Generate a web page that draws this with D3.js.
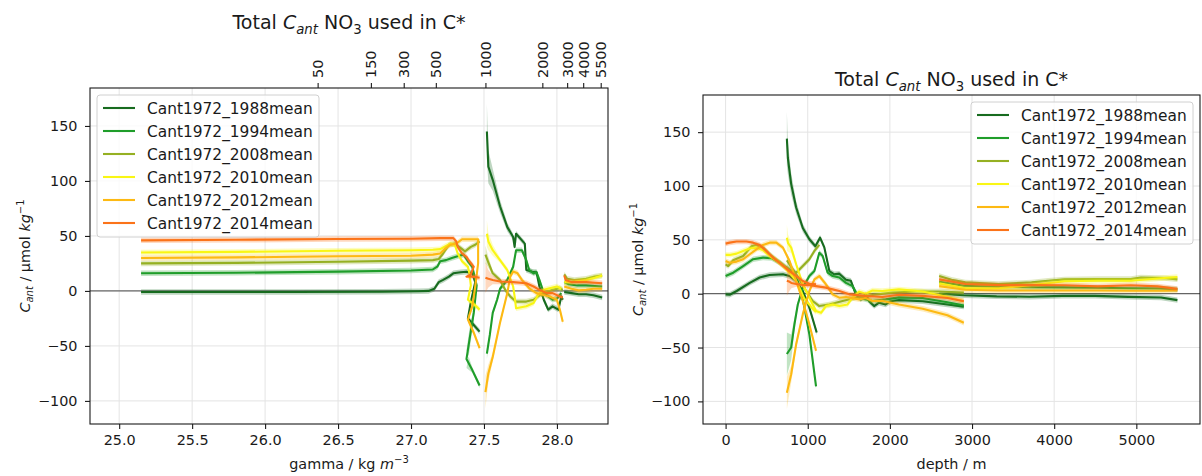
<!DOCTYPE html>
<html>
<head>
<meta charset="utf-8">
<script src="https://cdn.jsdelivr.net/npm/d3@7"></script>
<style>
  body { margin: 0; background: #fff; }
  text { font-family: "DejaVu Sans", sans-serif; fill: #1a1a1a; }
</style>
</head>
<body>
<svg id="chart" width="1202" height="476"></svg>
<script>
// ---- series names ----
const seriesNames = ["Cant1972_1988mean", "Cant1972_1994mean", "Cant1972_2008mean",
                     "Cant1972_2010mean", "Cant1972_2012mean", "Cant1972_2014mean"];

// ---- tick labels ----
const gammaTicks = [25.0, 25.5, 26.0, 26.5, 27.0, 27.5, 28.0];
const depthTicks = [0, 1000, 2000, 3000, 4000, 5000];
const cantTicks = [-100, -50, 0, 50, 100, 150];
// mean depth (m) of the gamma surfaces shown on the top axis
const depthTickLabels = [50, 150, 300, 500, 1000, 2000, 3000, 4000, 5500];
const depthTickGamma = [26.36, 26.725, 26.95, 27.17, 27.51, 27.90, 28.07, 28.18, 28.30];

// ---- Cant vs gamma: segments of [gamma, Cant, band half-width] ----
const gamma1988 = [
  [[25.15,-1],[25.6,-1],[26.2,-1],[26.8,-0.8],[27.05,-0.3],[27.12,0],[27.16,2],[27.19,8],[27.22,10],[27.26,13],[27.29,16],[27.34,17],[27.38,17.5],[27.42,16],[27.44,8],[27.41,-10],[27.39,-25],[27.43,-31],[27.47,-37]],
  [[27.52,145,25],[27.53,113,15],[27.56,101,10],[27.61,77,6],[27.66,58,4],[27.70,49,3],[27.71,40],[27.72,52],[27.78,43],[27.79,19],[27.83,17.5],[27.86,17],[27.88,4],[27.91,-8],[27.94,-17],[27.97,-14],[28.01,-17],[28.03,-5],[28.04,-8]],
  [[28.05,-1],[28.10,-2],[28.15,-3],[28.20,-3],[28.25,-4],[28.31,-6]]
];
const gamma1994 = [
  [[25.15,16],[25.8,16.5],[26.5,17.5],[27.0,18.5],[27.15,19.5],[27.18,22],[27.2,27],[27.24,28],[27.28,30],[27.33,32],[27.36,33],[27.39,27],[27.42,22],[27.45,5],[27.43,-20,6],[27.40,-45,10],[27.38,-62,8],[27.42,-72],[27.47,-86]],
  [[27.52,-57,5],[27.54,-40],[27.56,-20],[27.59,-8],[27.61,2],[27.66,10],[27.70,22],[27.72,37],[27.76,37],[27.79,28],[27.81,19],[27.84,16],[27.86,17],[27.88,10],[27.91,-2],[27.94,-5],[27.97,-8],[28.00,-7],[28.03,-2]],
  [[28.05,8],[28.08,6],[28.14,5],[28.2,5],[28.26,4.5],[28.31,4]]
];
const gamma2008 = [
  [[25.15,25],[25.8,25.5],[26.5,26.5],[27.0,27.5],[27.15,28],[27.19,29],[27.22,34],[27.26,42],[27.30,43],[27.33,40],[27.37,36],[27.41,40],[27.44,42],[27.47,45]],
  [[27.51,33,8],[27.53,26,5],[27.56,16],[27.61,10],[27.65,0],[27.68,-5],[27.72,-9.7],[27.79,-9.7],[27.84,-8],[27.88,-4],[27.91,-2],[27.97,1],[28.02,2.5],[28.04,1]],
  [[28.05,15],[28.07,11],[28.12,10],[28.2,11],[28.26,13],[28.31,14]]
];
const gamma2010 = [
  [[25.15,35],[25.8,35.5],[26.5,36.5],[27.0,37],[27.15,37.5],[27.2,38],[27.24,41],[27.27,43],[27.3,42],[27.32,34],[27.35,27],[27.39,22],[27.40,16],[27.41,5],[27.39,-8],[27.43,-12],[27.47,-17]],
  [[27.52,52,12],[27.53,45,8],[27.56,37,5],[27.61,28],[27.66,19],[27.70,4],[27.71,-5],[27.72,-15.8],[27.79,-14],[27.84,-11],[27.87,-3.7],[27.91,1],[27.95,2.4],[28.0,4],[28.03,2]],
  [[28.05,8],[28.1,8],[28.15,9],[28.2,10],[28.26,12],[28.31,14]]
];
const gamma2012 = [
  [[25.15,30],[25.8,30.5],[26.5,31.5],[27.0,32],[27.15,33],[27.2,34],[27.23,38],[27.27,42],[27.31,43],[27.35,47],[27.40,47],[27.46,47],[27.46,25],[27.44,4],[27.42,-14],[27.39,-26],[27.43,-38],[27.47,-52]],
  [[27.51,-92,15],[27.53,-75,8],[27.56,-60,4],[27.61,-29],[27.66,-2],[27.68,13],[27.70,17.6],[27.73,16],[27.76,10],[27.81,2.4],[27.86,-2],[27.91,-3.7],[27.95,-5],[28.0,-8],[28.02,-17],[28.04,-28]],
  [[28.05,4],[28.1,2],[28.15,0.5],[28.2,1],[28.25,2],[28.31,2]]
];
const gamma2014 = [
  [[25.15,46],[25.8,46.5],[26.5,47.2],[27.0,47.5],[27.2,48],[27.29,48],[27.31,45],[27.32,40],[27.35,34],[27.38,31],[27.40,27],[27.43,22],[27.41,15],[27.38,13],[27.43,13],[27.47,12]],
  [[27.51,12,14],[27.53,11,8],[27.56,10,4],[27.61,8.5],[27.70,8],[27.79,7],[27.84,4],[27.88,1],[27.93,-2],[27.97,-2],[28.02,-5],[28.04,-6]],
  [[28.05,14],[28.06,10],[28.1,8],[28.2,8],[28.31,7]]
];

// ---- Cant vs depth: segments of [depth, Cant, band half-width] ----
const depth1988 = [
  [[0,-0.6],[50,-1],[135,2.5],[294,10],[415,15],[536,17.4],[698,18],[778,16.4],[859,11.8],[940,2.5],[1020,-13],[1109,-36]],
  [[746,144,25],[758,126,15],[798,102,10],[859,80,6],[940,61,4],[1020,50.5,3],[1093,44],[1150,52],[1202,43],[1263,21],[1323,18],[1384,18.6],[1465,13],[1525,12],[1586,-0.6],[1646,-5.3],[1707,-0.6],[1747,-7],[1808,-11.5],[1868,-8.4],[1949,-10],[2010,-7],[2110,-6],[2400,-7],[2700,-10],[2900,-12]],
  [[2600,0],[2900,-1.5],[3300,-2.5],[3700,-2.8],[4100,-2],[4500,-2],[4900,-3],[5300,-3.5],[5500,-6]]
];
const depth1994 = [
  [[0,16.4],[93,19.5],[214,25.7],[335,32],[456,33.5],[557,33],[658,28.8],[738,24],[819,19.5],[879,11.8],[919,2.5],[960,-13],[1020,-38],[1101,-86]],
  [[746,-56,20],[798,-50,12],[838,-28.5,6],[879,-10,3],[940,5.6],[1020,16.4],[1081,21],[1141,38],[1182,35],[1242,19.5],[1303,16.4],[1384,15],[1465,10],[1545,7],[1626,-3.7],[1707,-5.3],[1788,-6.8],[1949,-5.3],[2110,-3.4],[2400,-4],[2700,-8],[2900,-11]],
  [[2600,11],[2900,7.4],[3300,6.5],[3700,6],[4100,5.9],[4500,5.5],[4900,5],[5300,4.8],[5500,4]]
];
const depth2008 = [
  [[0,27.3],[32,25.7],[93,31],[214,35],[315,44],[375,45.3],[456,42.8],[536,36.6],[637,30.4],[718,25.7],[778,22.6],[859,19.5],[940,25.7],[1020,32],[1081,39.7],[1141,45.3]],
  [[746,31,6],[819,22.6,3],[899,13.3],[980,2.5],[1060,-6.8],[1141,-11.5],[1263,-10],[1424,-6.8],[1586,-3.7],[1788,-1.2],[2030,1],[2312,2],[2595,2],[2900,1]],
  [[2600,16.4],[2750,13],[2918,10.5],[3321,9],[3724,10.5],[3926,12],[4128,13.3],[4531,13.6],[4934,13.6],[5056,15],[5339,14.5],[5500,13.3]]
];
const depth2010 = [
  [[0,36],[50,36],[133,37.2],[214,39.7],[294,42],[375,42.8],[456,40.3],[536,35],[617,31],[698,25.7],[778,19.5],[859,11.8],[900,5],[960,-5],[1020,-10],[1060,-14],[1100,-17]],
  [[746,52,12],[760,47,8],[798,42.8,5],[859,27.3],[940,8.7],[1020,-3.7],[1101,-16],[1162,-17.7],[1222,-11.5],[1303,-10],[1384,-11.5],[1485,-10],[1545,-3.7],[1626,1.9],[1707,0],[1788,3],[1908,2.5],[2110,4],[2400,2],[2700,-3],[2900,-7]],
  [[2600,9.6],[2918,5],[3321,5],[3724,8],[4128,11.5],[4531,12],[4934,12],[5339,14.6],[5500,15.5]]
];
const depth2012 = [
  [[0,30.4],[50,28.8],[133,29.8],[214,32],[294,36.6],[375,41.2],[456,45.3],[536,47.4],[617,47.4],[698,42.8],[778,30.4],[859,11.8],[940,-6.8],[1020,-28.5],[1101,-53]],
  [[746,-92,15],[798,-75,8],[859,-47,4],[940,-19],[1020,2.5],[1081,13.3],[1141,16.4],[1222,8.7],[1303,-0.6],[1384,-3.7],[1465,-3],[1626,-5.3],[1707,-4],[1788,-6.8],[1900,-6.5],[2110,-10],[2400,-14],[2700,-20],[2900,-27]],
  [[2600,7],[2918,3.7],[3321,3],[3724,3],[4128,3],[4531,3],[4934,2.8],[5339,2.8],[5500,2.9]]
];
const depth2014 = [
  [[0,46.5],[50,47.4],[133,48.4],[254,48.4],[335,47.4],[415,45.3],[496,39.7],[577,33.5],[678,27.3],[778,21],[859,16.4],[940,11.8],[1020,9.3],[1101,8.7]],
  [[746,12,14],[780,11,8],[800,10,5],[860,9],[940,8],[1020,8],[1100,7],[1222,5.6],[1303,4],[1384,2.5],[1505,-0.6],[1707,-2.2],[1908,-3.1],[2110,-1],[2400,-2],[2700,-4],[2900,-7]],
  [[2600,13.3],[2918,9],[3321,8],[3724,8],[4128,7.8],[4531,6.8],[4934,7.8],[5258,6.8],[5500,4.5]]
];

// ---- styling ----
const lineColors = ["#176b1f", "#1f9d2a", "#95b022", "#f9f614", "#fdb913", "#fb7319"];
const defaultBand = 2.5;
const tickFont = 14.4;

const svg = d3.select("#chart");
const defs = svg.append("defs");

const panels = [
  {
    id: "gamma",
    xDomain: [24.80, 28.35], xRange: [90, 608], yRange: [424, 88],
    xTicks: gammaTicks, xFormat: d3.format(".1f"),
    series: [gamma1988, gamma1994, gamma2008, gamma2010, gamma2012, gamma2014],
    legend: { x: 97, y: 95 },
    titleY: 29, yLabelX: 30,
    xLabel: "gamma", topAxis: true
  },
  {
    id: "depth",
    xDomain: [-275, 5775], xRange: [703, 1200], yRange: [424, 95],
    xTicks: depthTicks, xFormat: d3.format("d"),
    series: [depth1988, depth1994, depth2008, depth2010, depth2012, depth2014],
    legend: { x: 971, y: 102 },
    titleY: 86, yLabelX: 643,
    xLabel: "depth", topAxis: false
  }
];

function addTitle(g, cx, y) {
  const t = g.append("text").attr("x", cx).attr("y", y)
    .attr("text-anchor", "middle").style("font-size", "19px");
  t.append("tspan").text("Total ");
  t.append("tspan").attr("font-style", "italic").text("C");
  t.append("tspan").attr("font-style", "italic").style("font-size", "13.3px").attr("dy", 4.5).text("ant");
  t.append("tspan").attr("dy", -4.5).text(" NO");
  t.append("tspan").style("font-size", "13.3px").attr("dy", 4.5).text("3");
  t.append("tspan").attr("dy", -4.5).text(" used in C*");
}

function addYLabel(g, x, cy) {
  const t = g.append("text").attr("transform", `translate(${x},${cy}) rotate(-90)`)
    .attr("text-anchor", "middle").style("font-size", "14.4px");
  t.append("tspan").attr("font-style", "italic").text("C");
  t.append("tspan").attr("font-style", "italic").style("font-size", "10px").attr("dy", 3).text("ant");
  t.append("tspan").attr("dy", -3).text(" / μmol ");
  t.append("tspan").attr("font-style", "italic").text("kg");
  t.append("tspan").style("font-size", "10px").attr("dy", -6).text("−1");
}

function addXLabel(g, kind, cx, y) {
  const t = g.append("text").attr("x", cx).attr("y", y)
    .attr("text-anchor", "middle").style("font-size", "14.4px");
  if (kind === "gamma") {
    t.append("tspan").text("gamma / kg ");
    t.append("tspan").attr("font-style", "italic").text("m");
    t.append("tspan").style("font-size", "10px").attr("dy", -6).text("−3");
  } else {
    t.append("tspan").text("depth / m");
  }
}

function styleAxis(sel) {
  sel.select(".domain").remove();
  sel.selectAll(".tick line").attr("stroke", "#1a1a1a").attr("stroke-width", 1.1);
  sel.selectAll(".tick text").style("font-size", tickFont + "px")
    .style("font-family", "'DejaVu Sans', sans-serif").attr("fill", "#1a1a1a");
}

panels.forEach(p => {
  const x = d3.scaleLinear().domain(p.xDomain).range(p.xRange);
  const y = d3.scaleLinear().domain([-121, 184.5]).range(p.yRange);
  const [x0, x1] = p.xRange;
  const [yb, yt] = p.yRange;
  const g = svg.append("g");

  defs.append("clipPath").attr("id", "clip-" + p.id)
    .append("rect").attr("x", x0).attr("y", yt).attr("width", x1 - x0).attr("height", yb - yt);

  // grid
  g.append("g").selectAll("line").data(p.xTicks).join("line")
    .attr("x1", d => x(d)).attr("x2", d => x(d)).attr("y1", yt).attr("y2", yb)
    .attr("stroke", "#e4e4e4").attr("stroke-width", 1);
  g.append("g").selectAll("line").data(cantTicks).join("line")
    .attr("x1", x0).attr("x2", x1).attr("y1", d => y(d)).attr("y2", d => y(d))
    .attr("stroke", "#e4e4e4").attr("stroke-width", 1);

  // zero reference line
  g.append("line").attr("x1", x0).attr("x2", x1).attr("y1", y(0)).attr("y2", y(0))
    .attr("stroke", "#333").attr("stroke-width", 0.9);

  const plot = g.append("g").attr("clip-path", `url(#clip-${p.id})`);
  const band = d3.area()
    .x(d => x(d[0]))
    .y0(d => y(d[1] - (d[2] ?? defaultBand)))
    .y1(d => y(d[1] + (d[2] ?? defaultBand)));
  const line = d3.line().x(d => x(d[0])).y(d => y(d[1]));

  p.series.forEach((segs, i) => {
    segs.forEach(seg => {
      plot.append("path").datum(seg).attr("d", band)
        .attr("fill", lineColors[i]).attr("fill-opacity", 0.28).attr("stroke", "none");
      plot.append("path").datum(seg).attr("d", line)
        .attr("fill", "none").attr("stroke", lineColors[i]).attr("stroke-width", 2.1)
        .attr("stroke-linejoin", "round").attr("stroke-linecap", "butt");
    });
  });

  // axes
  const xAxis = g.append("g").attr("transform", `translate(0,${yb})`)
    .call(d3.axisBottom(x).tickValues(p.xTicks).tickFormat(p.xFormat).tickSize(5).tickPadding(6));
  styleAxis(xAxis);
  const yAxis = g.append("g").attr("transform", `translate(${x0},0)`)
    .call(d3.axisLeft(y).tickValues(cantTicks).tickFormat(d3.format("d")).tickSize(5).tickPadding(7.5));
  styleAxis(yAxis);

  if (p.topAxis) {
    const topAx = g.append("g").attr("transform", `translate(0,${yt})`)
      .call(d3.axisTop(x).tickValues(depthTickGamma).tickFormat((d, k) => depthTickLabels[k]).tickSize(5));
    styleAxis(topAx);
    topAx.selectAll(".tick text")
      .attr("x", 0).attr("y", 0).attr("dy", null)
      .attr("transform", "translate(0,-10) rotate(-90)")
      .attr("text-anchor", "start").attr("dominant-baseline", "central");
  }

  // frame
  g.append("rect").attr("x", x0).attr("y", yt).attr("width", x1 - x0).attr("height", yb - yt)
    .attr("fill", "none").attr("stroke", "#1a1a1a").attr("stroke-width", 1.1);

  // texts
  const cx = (x0 + x1) / 2;
  addTitle(g, cx, p.titleY);
  addYLabel(g, p.yLabelX, (yt + yb) / 2);
  addXLabel(g, p.xLabel, cx, 469);

  // legend
  const lg = g.append("g").attr("transform", `translate(${p.legend.x},${p.legend.y})`);
  lg.append("rect").attr("width", 222).attr("height", 142).attr("rx", 3)
    .attr("fill", "#fff").attr("fill-opacity", 0.8).attr("stroke", "#d0d0d0").attr("stroke-width", 1);
  seriesNames.forEach((name, i) => {
    const yy = 13 + i * 23;
    lg.append("line").attr("x1", 6).attr("x2", 38).attr("y1", yy).attr("y2", yy)
      .attr("stroke", lineColors[i]).attr("stroke-width", 2.1);
    lg.append("text").attr("x", 50).attr("y", yy).attr("dy", "0.36em")
      .style("font-size", "15.4px").text(name);
  });
});
</script>
</body>
</html>
